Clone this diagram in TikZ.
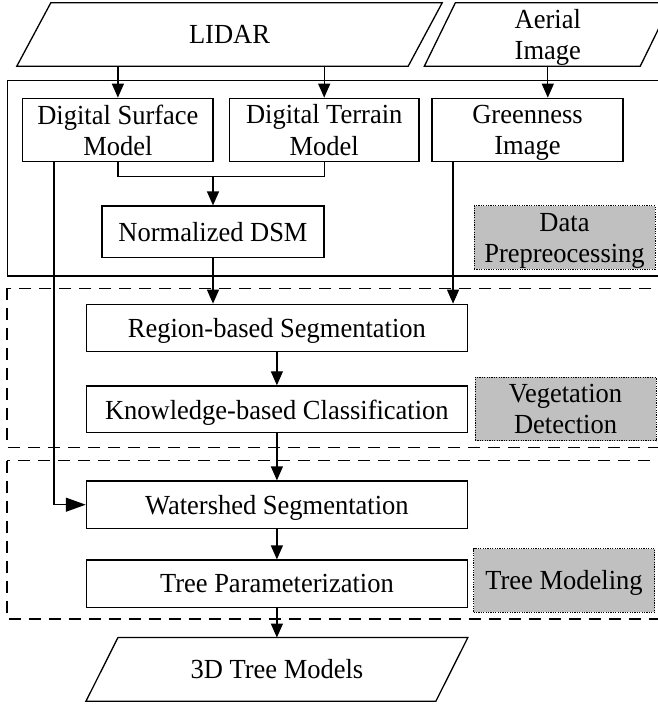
\documentclass[tikz,border=0pt]{standalone}
\usepackage{fontspec}
\setmainfont{Liberation Serif}[FakeStretch=0.96]
\usetikzlibrary{arrows.meta}
\definecolor{lblfill}{HTML}{C0C0C0}
\begin{document}
\begin{tikzpicture}[x=1pt,y=-1pt,
  every node/.style={font=\fontsize{27.6}{31.3}\selectfont, align=center,
                     inner sep=0pt, text depth=0pt},
  procbox/.style={draw, line width=1.3pt, minimum width=#1},
  procbox/.default=381,
  iotext/.style={minimum height=63},
  lblbox/.style={draw, fill=lblfill, line width=1pt, dash pattern=on 1.2pt off 1.2pt,
                 minimum width=181, minimum height=63.5},
  conn/.style={line width=1.3pt},
  arr/.style={conn, -{Triangle[length=14pt,width=12pt]}},
  bigarr/.style={conn, -{Triangle[length=20pt,width=14pt]}},
  stagebox/.style={line width=1.3pt, dash pattern=on 12pt off 8pt}
]
\clip (0,0) rectangle (658,704);

% stage frames
\draw[line width=1.3pt] (7.5,80.7) rectangle (680,276);
\draw[stagebox] (7,288.3) rectangle (680,447.5);
\draw[stagebox] (7,460.5) rectangle (680,619);

% inputs (parallelograms drawn around text nodes)
\node[iotext, minimum width=391] (lidar) at (229.5,34.5) {LIDAR};
\draw[conn] ([xshift=17pt]lidar.north west) -- ([xshift=17pt]lidar.north east)
  -- ([xshift=-17pt]lidar.south east) -- ([xshift=-17pt]lidar.south west) -- cycle;
\node[iotext, minimum width=215.5] (aerial) at (547.8,34.5) {Aerial\\Image};
\draw[conn] ([xshift=15.5pt]aerial.north west) -- ([xshift=15.5pt]aerial.north east)
  -- ([xshift=-15.5pt]aerial.south east) -- ([xshift=-15.5pt]aerial.south west) -- cycle;

% data preprocessing
\node[procbox=190.3, minimum height=63.4] (dsm) at (117.9,130) {Digital Surface\\Model};
\node[procbox=189.5, minimum height=63.4] (dtm) at (324.2,130) {Digital Terrain\\Model};
\node[procbox=191, minimum height=63.4] (green) at (527.5,130) {Greenness\\Image};
\node[procbox=222, minimum height=51.3] (ndsm) at (213,231.7) {Normalized DSM};

% vegetation detection and tree modelling
\node[procbox, minimum height=47.4] (region) at (276.9,328) {Region-based Segmentation};
\node[procbox, minimum height=46.7] (know) at (276.9,409.3) {Knowledge-based Classification};
\node[procbox, minimum height=47.3] (ws) at (276.9,504.7) {Watershed Segmentation};
\node[procbox, minimum height=47.3] (tp) at (276.9,583.7) {Tree Parameterization};

% output
\node[iotext, minimum width=349.5, minimum height=63.3] (out) at (276.9,669.4) {3D Tree Models};
\draw[conn] ([xshift=16pt]out.north west) -- ([xshift=16pt]out.north east)
  -- ([xshift=-16pt]out.south east) -- ([xshift=-16pt]out.south west) -- cycle;

% stage labels
\node[lblbox] (lblpre) at (564.5,237.7) {Data\\Prepreocessing};
\node[lblbox] (lblveg) at (565.5,409.2) {Vegetation\\Detection};
\node[lblbox] (lbltree) at (564,580.4) {Tree Modeling};

% connectors
\draw[arr] (lidar.south -| dsm.north) -- (dsm.north);
\draw[arr] (lidar.south -| dtm.north) -- (dtm.north);
\draw[arr] (aerial.south) -- (aerial.south |- green.north);

\coordinate (mj) at (213,176.7);
\draw[conn] (dsm.south) |- (mj) -| (dtm.south);
\draw[arr] (mj) -- (ndsm.north);

\draw[arr] (ndsm.south) -- (ndsm.south |- region.north);
\coordinate (gin) at ([xshift=-15pt]region.north east);
\draw[arr] (green.south -| gin) -- (gin);
\draw[arr] (region) -- (know);
\draw[arr] (know) -- (ws);
\coordinate (dtap) at ([xshift=32pt]dsm.south west);
\draw[bigarr] (dtap) |- (ws.west);
\draw[arr] (ws) -- (tp);
\draw[arr] (tp.south) -- (out.north);
\end{tikzpicture}
\end{document}
